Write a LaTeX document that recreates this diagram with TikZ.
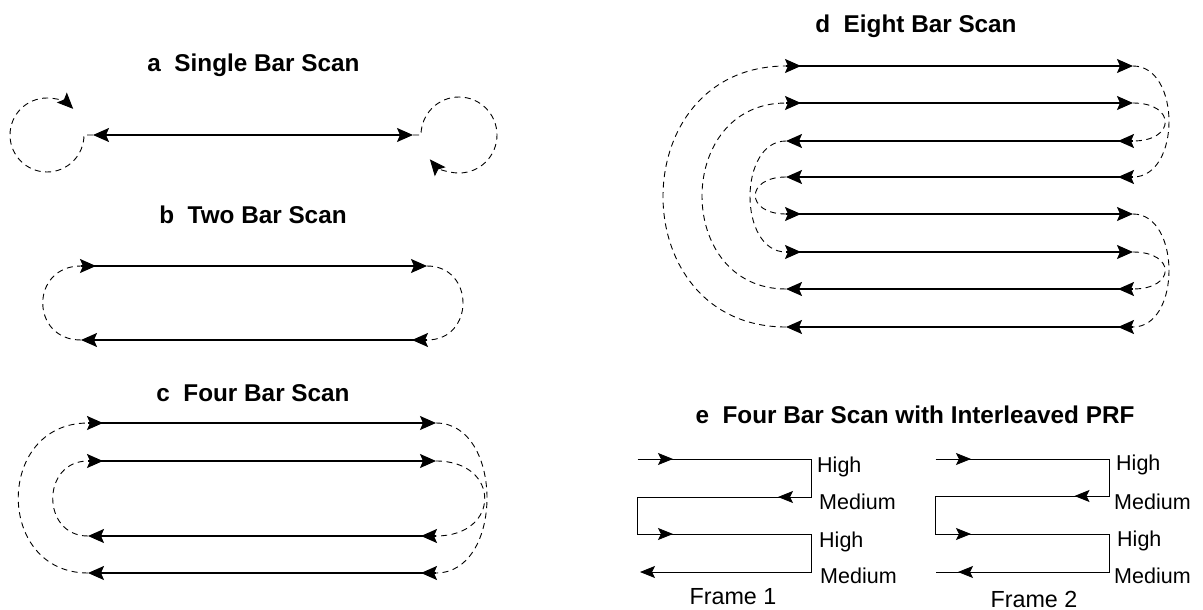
\documentclass[tikz,border=0pt]{standalone}
\usepackage{fontspec}
\setmainfont{Liberation Sans}
\usetikzlibrary{arrows.meta,decorations.markings}
\tikzset{
  tipb/.tip={Stealth[length=16pt,width=14pt,inset=3pt]},
  tipe/.tip={Stealth[length=15pt,width=12pt,inset=3pt]},
  title/.style={anchor=base, inner sep=0pt, font=\fontsize{24.3}{29}\selectfont\bfseries},
  lab/.style={anchor=base west, inner sep=0pt, font=\fontsize{21.5}{26}\selectfont},
  framelab/.style={anchor=base, inner sep=0pt, font=\fontsize{23.3}{28}\selectfont},
  bar/.style={line width=1.6pt, -tipb, postaction={decorate},
    decoration={markings, mark=at position 15pt with {\arrow{tipb}}}},
  dashc/.style={line width=0.9pt, dash pattern=on 6pt off 4.5pt},
  ethin/.style={line width=0.9pt, -tipe},
}
\begin{document}
\begin{tikzpicture}[x=1pt,y=-1pt]
\useasboundingbox (0,0) rectangle (1203,610);

% ---------- a ----------
\node[title] (ta) at (253.5,72) {a\ \ Single Bar Scan};
\coordinate (a1) at (93,135);
\coordinate (a2) at (413,135);
\draw[line width=1.6pt, tipb-tipb] (a1) -- (a2);
\draw[dashc, -tipb] (a1) -- ++(-9,0) arc[start angle=0, end angle=315, radius=37];
\draw[dashc, -tipb] (a2) -- ++(8,0) arc[start angle=180, end angle=500, radius=38];

% ---------- b ----------
\node[title] (tb) at (253,223) {b\ \ Two Bar Scan};
\coordinate (b1s) at (81,266);
\coordinate (b1e) at (427,266);
\coordinate (b2s) at (427,340);
\coordinate (b2e) at (81,340);
\draw[bar] (b1s) -- (b1e);
\draw[bar] (b2s) -- (b2e);
\draw[dashc] (b1e) .. controls +(48,0) and +(48,0) .. (b2s);
\draw[dashc] (b2e) .. controls +(-51,0) and +(-51,0) .. (b1s);

% ---------- c ----------
\node[title] (tc) at (253,401) {c\ \ Four Bar Scan};
\coordinate (c1s) at (88,423);  \coordinate (c1e) at (436,423);
\coordinate (c2s) at (88,461);  \coordinate (c2e) at (436,461);
\coordinate (c3s) at (436,536); \coordinate (c3e) at (88,536);
\coordinate (c4s) at (436,573); \coordinate (c4e) at (88,573);
\draw[bar] (c1s) -- (c1e);
\draw[bar] (c2s) -- (c2e);
\draw[bar] (c3s) -- (c3e);
\draw[bar] (c4s) -- (c4e);
\draw[dashc] (c1e) .. controls +(68,0) and +(68,0) .. (c4s);
\draw[dashc] (c2e) .. controls +(65,0) and +(65,0) .. (c3s);
\draw[dashc] (c4e) .. controls +(-93,0) and +(-93,0) .. (c1s);
\draw[dashc] (c3e) .. controls +(-47,0) and +(-47,0) .. (c2s);

% ---------- d ----------
\node[title] (td) at (916,33) {d\ \ Eight Bar Scan};
\coordinate (d1s) at (786,66);   \coordinate (d1e) at (1133,66);
\coordinate (d2s) at (786,103);  \coordinate (d2e) at (1133,103);
\coordinate (d3s) at (1133,141); \coordinate (d3e) at (786,141);
\coordinate (d4s) at (1133,177); \coordinate (d4e) at (786,177);
\coordinate (d5s) at (786,214);  \coordinate (d5e) at (1133,214);
\coordinate (d6s) at (786,252);  \coordinate (d6e) at (1133,252);
\coordinate (d7s) at (1133,289); \coordinate (d7e) at (786,289);
\coordinate (d8s) at (1133,327); \coordinate (d8e) at (786,327);
\foreach \k in {1,...,8} { \draw[bar] (d\k s) -- (d\k e); }
\draw[dashc] (d1e) .. controls +(48,0) and +(48,0) .. (d4s);
\draw[dashc] (d2e) .. controls +(43,0) and +(43,0) .. (d3s);
\draw[dashc] (d5e) .. controls +(48,0) and +(48,0) .. (d8s);
\draw[dashc] (d6e) .. controls +(43,0) and +(43,0) .. (d7s);
\draw[dashc] (d4e) .. controls +(-41,0) and +(-41,0) .. (d5s);
\draw[dashc] (d3e) .. controls +(-48,0) and +(-48,0) .. (d6s);
\draw[dashc] (d7e) .. controls +(-112,0) and +(-112,0) .. (d2s);
\draw[dashc] (d8e) .. controls +(-164,0) and +(-164,0) .. (d1s);

% ---------- e ----------
\node[title] (te) at (915,423) {e\ \ Four Bar Scan with Interleaved PRF};
% Frame 1
\coordinate (e1a) at (637.5,459); \coordinate (e1b) at (811.6,459);
\coordinate (e1c) at (811.6,497); \coordinate (e1d) at (637.5,497);
\coordinate (e1e) at (637.5,534); \coordinate (e1f) at (811.6,534);
\coordinate (e1g) at (811.6,572); \coordinate (e1h) at (640,572);
\draw[ethin, postaction={decorate}, decoration={markings,
    mark=at position 35.5pt with {\arrow{tipe}},
    mark=at position 245.7pt with {\arrow{tipe}},
    mark=at position 458.7pt with {\arrow{tipe}}}]
  (e1a) -- (e1b) -- (e1c) -- (e1d) -- (e1e) -- (e1f) -- (e1g) -- (e1h);
\node[lab] (f1l1) at (817,472) {High};
\node[lab] (f1l2) at (819,509) {Medium};
\node[lab] (f1l3) at (819,547) {High};
\node[lab] (f1l4) at (820,583) {Medium};
\node[framelab] (f1) at (733,604) {Frame 1};
% Frame 2
\coordinate (e2a) at (935.6,459); \coordinate (e2b) at (1109,459);
\coordinate (e2c) at (1109,496);  \coordinate (e2d) at (935.6,496);
\coordinate (e2e) at (935.6,534); \coordinate (e2f) at (1109,534);
\coordinate (e2g) at (1109,572);  \coordinate (e2h) at (935.6,572);
\draw[line width=0.9pt, postaction={decorate}, decoration={markings,
    mark=at position 35.4pt with {\arrow{tipe}},
    mark=at position 244.9pt with {\arrow{tipe}},
    mark=at position 457.2pt with {\arrow{tipe}},
    mark=at position 784.2pt with {\arrow{tipe}}}]
  (e2a) -- (e2b) -- (e2c) -- (e2d) -- (e2e) -- (e2f) -- (e2g) -- (e2h);
\node[lab] (f2l1) at (1116,470) {High};
\node[lab] (f2l2) at (1114,509) {Medium};
\node[lab] (f2l3) at (1117,546) {High};
\node[lab] (f2l4) at (1114,583) {Medium};
\node[framelab] (f2) at (1034,607) {Frame 2};
\end{tikzpicture}
\end{document}
